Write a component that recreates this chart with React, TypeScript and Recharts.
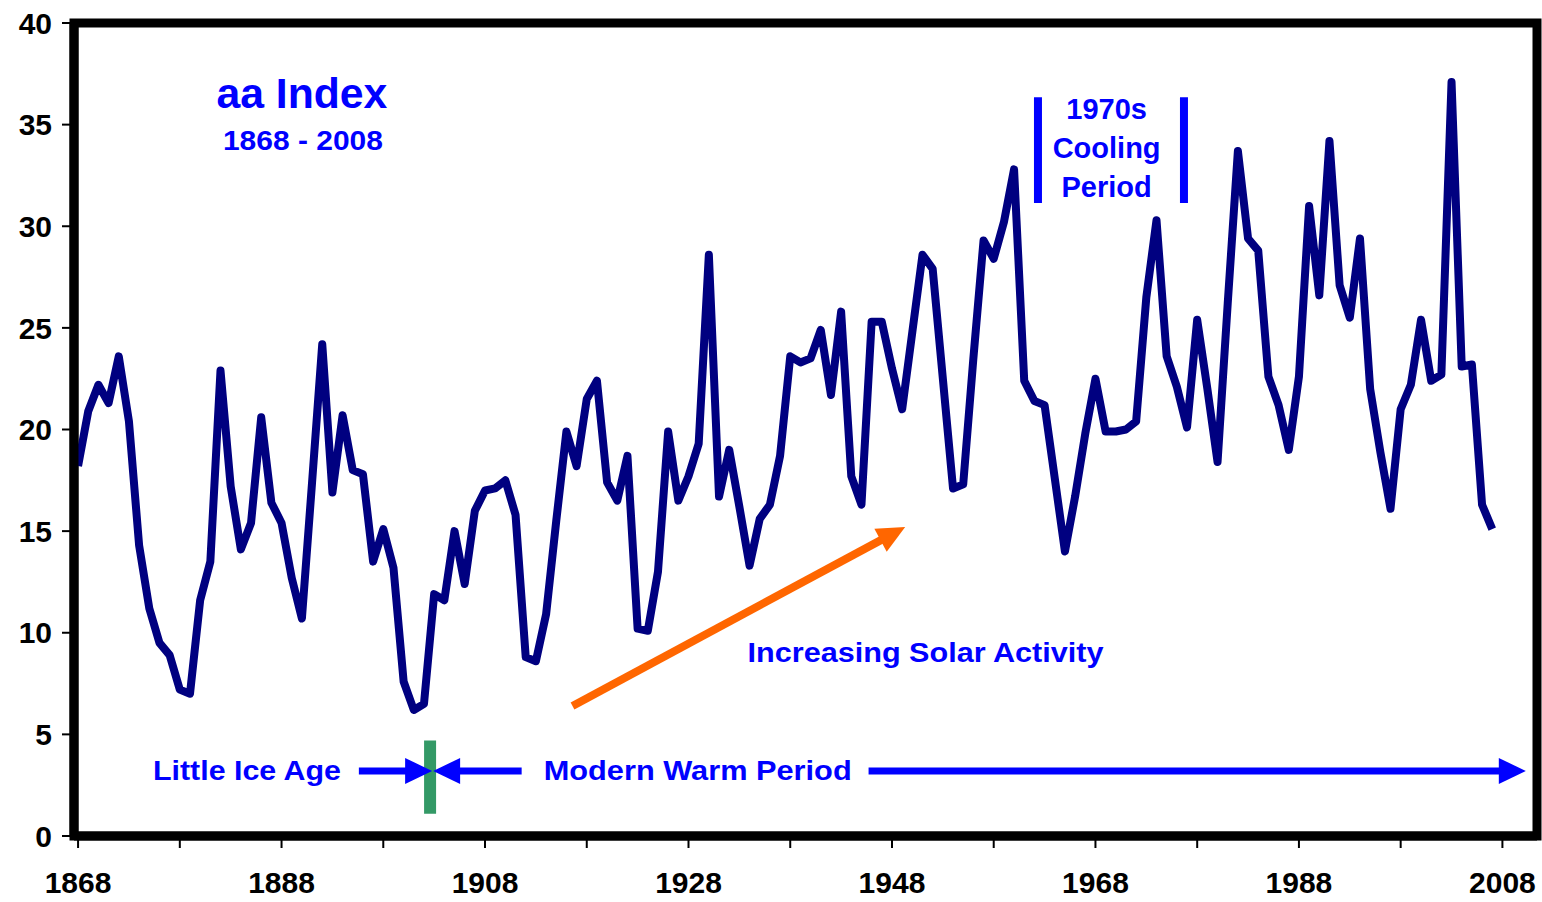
import React from "react";
import {
  Line,
  LineChart,
  ReferenceArea,
  ReferenceDot,
  ReferenceLine,
  XAxis,
  YAxis,
} from "recharts";

// yearly aa index values in 20-year blocks
const aa1868 = [18.2, 20.9, 22.2, 21.3, 23.6, 20.4, 14.3, 11.2, 9.5, 8.9, 7.2, 7.0, 11.6, 13.5, 22.9, 17.2, 14.1, 15.4, 20.6, 16.4];
const aa1888 = [15.4, 12.7, 10.7, 17.4, 24.2, 16.9, 20.7, 18.0, 17.8, 13.5, 15.1, 13.2, 7.6, 6.2, 6.5, 11.9, 11.6, 15.0, 12.4, 16.0];
const aa1908 = [17.0, 17.1, 17.5, 15.8, 8.8, 8.6, 10.9, 15.5, 19.9, 18.2, 21.5, 22.4, 17.4, 16.5, 18.7, 10.2, 10.1, 13.0, 19.9, 16.5];
const aa1928 = [17.7, 19.3, 28.6, 16.7, 19.0, 16.2, 13.3, 15.6, 16.3, 18.7, 23.6, 23.3, 23.5, 24.9, 21.7, 25.8, 17.7, 16.3, 25.3, 25.3];
const aa1948 = [23.0, 21.0, 24.8, 28.6, 27.9, 22.5, 17.1, 17.3, 23.5, 29.3, 28.4, 30.2, 32.8, 22.4, 21.4, 21.2, 17.6, 14.0, 16.7, 19.8];
const aa1968 = [22.5, 19.9, 19.9, 20.0, 20.4, 26.5, 30.3, 23.6, 22.1, 20.1, 25.4, 22.0, 18.4, 26.2, 33.7, 29.4, 28.8, 22.6, 21.2, 19.0];
const aa1988 = [22.6, 31.0, 26.6, 34.2, 27.1, 25.5, 29.4, 22.0, 18.9, 16.1, 21.0, 22.2, 25.4, 22.4, 22.7, 37.1, 23.1, 23.2, 16.3, 15.1];

const firstYear = 1868;
const aaValues = [...aa1868, ...aa1888, ...aa1908, ...aa1928, ...aa1948, ...aa1968, ...aa1988];
const data = aaValues.map((aa, i) => ({ year: firstYear + i, aa }));

const xTicks = [1868, 1878, 1888, 1898, 1908, 1918, 1928, 1938, 1948, 1958, 1968, 1978, 1988, 1998, 2008];
const xLabelYears = [1868, 1888, 1908, 1928, 1948, 1968, 1988, 2008];
const yTicks = [0, 5, 10, 15, 20, 25, 30, 35, 40];

const X_DOMAIN: [number, number] = [1867.6, 2011.4];
const FONT = "'Liberation Sans', Arial, sans-serif";
const BLUE = "#0000ff";

function arrowShape(color: string, width: number, headLen: number, headHalf: number) {
  return (props: any) => {
    const { x1, y1, x2, y2 } = props;
    const dx = x2 - x1;
    const dy = y2 - y1;
    const len = Math.sqrt(dx * dx + dy * dy) || 1;
    const ux = dx / len;
    const uy = dy / len;
    const bx = x2 - ux * headLen;
    const by = y2 - uy * headLen;
    const px = -uy * headHalf;
    const py = ux * headHalf;
    return (
      <g>
        <line x1={x1} y1={y1} x2={bx + ux * 2} y2={by + uy * 2} stroke={color} strokeWidth={width} />
        <polygon
          points={`${x2},${y2} ${bx + px},${by + py} ${bx - px},${by - py}`}
          fill={color}
        />
      </g>
    );
  };
}

function textShape(lines: string[], fontSize: number, lineGap: number, textLength?: number) {
  return (props: any) => {
    const { cx, cy } = props;
    const top = cy - ((lines.length - 1) * lineGap) / 2;
    return (
      <text
        x={cx}
        y={top}
        textAnchor="middle"
        dominantBaseline="central"
        fill={BLUE}
        fontFamily={FONT}
        fontWeight="bold"
        fontSize={fontSize}
      >
        {lines.map((line, i) => (
          <tspan
            key={line}
            x={cx}
            y={top + i * lineGap}
            textLength={textLength}
            lengthAdjust={textLength ? "spacingAndGlyphs" : undefined}
          >
            {line}
          </tspan>
        ))}
      </text>
    );
  };
}

export default function App() {
  return (
    <div style={{ position: "absolute", left: 0, top: 0, background: "#fff" }}>
      <LineChart
        width={1542}
        height={902}
        data={data}
        margin={{ top: 23, right: 5, left: 0, bottom: 0 }}
      >
        <XAxis
          dataKey="year"
          type="number"
          domain={X_DOMAIN}
          ticks={xTicks}
          interval={0}
          height={66}
          tickFormatter={(v: number) => (xLabelYears.includes(v) ? String(v) : "")}
          axisLine={{ stroke: "#000", strokeWidth: 9 }}
          tickLine={{ stroke: "#000", strokeWidth: 2 }}
          tickSize={12}
          tickMargin={24}
          tick={{ fill: "#000", fontSize: 30, fontWeight: "bold", fontFamily: FONT }}
        />
        <YAxis
          domain={[0, 40]}
          ticks={yTicks}
          interval={0}
          width={74}
          axisLine={{ stroke: "#000", strokeWidth: 9 }}
          tickLine={{ stroke: "#000", strokeWidth: 2 }}
          tickSize={12}
          tickMargin={10}
          tick={{ fill: "#000", fontSize: 30, fontWeight: "bold", fontFamily: FONT }}
        />

        <Line
          type="linear"
          dataKey="aa"
          stroke="#000080"
          strokeWidth={8}
          strokeLinejoin="round"
          dot={false}
          activeDot={false}
          isAnimationActive={false}
        />

        <ReferenceArea
          x1={X_DOMAIN[0]}
          x2={X_DOMAIN[1]}
          y1={0}
          y2={40}
          fill="none"
          fillOpacity={0}
          stroke="#000"
          strokeWidth={9}
          ifOverflow="visible"
        />

        {/* title */}
        <ReferenceDot x={1890.0} y={36.55} shape={textShape(["aa Index"], 42, 0, 171)} />
        <ReferenceDot x={1890.1} y={34.2} shape={textShape(["1868 - 2008"], 27, 0, 160)} />

        {/* 1970s cooling period */}
        <ReferenceLine
          segment={[{ x: 1962.35, y: 31.14 }, { x: 1962.35, y: 36.35 }]}
          stroke={BLUE}
          strokeWidth={8}
        />
        <ReferenceLine
          segment={[{ x: 1976.7, y: 31.14 }, { x: 1976.7, y: 36.35 }]}
          stroke={BLUE}
          strokeWidth={8}
        />
        <ReferenceDot x={1969.1} y={33.85} shape={textShape(["1970s", "Cooling", "Period"], 29, 39)} />

        {/* increasing solar activity */}
        <ReferenceLine
          segment={[{ x: 1916.6, y: 6.4 }, { x: 1949.3, y: 15.2 }]}
          shape={arrowShape("#ff6600", 8, 28, 13)}
        />
        <ReferenceDot x={1951.3} y={9.05} shape={textShape(["Increasing Solar Activity"], 28, 0, 356)} />

        {/* little ice age / modern warm period */}
        <ReferenceLine
          segment={[{ x: 1902.6, y: 1.1 }, { x: 1902.6, y: 4.7 }]}
          stroke="#339966"
          strokeWidth={12}
        />
        <ReferenceLine
          segment={[{ x: 1895.6, y: 3.2 }, { x: 1902.8, y: 3.2 }]}
          shape={arrowShape(BLUE, 7, 27, 13)}
        />
        <ReferenceLine
          segment={[{ x: 1911.6, y: 3.2 }, { x: 1902.9, y: 3.2 }]}
          shape={arrowShape(BLUE, 7, 27, 13)}
        />
        <ReferenceLine
          segment={[{ x: 1945.7, y: 3.2 }, { x: 2010.3, y: 3.2 }]}
          shape={arrowShape(BLUE, 7, 27, 13)}
        />
        <ReferenceDot x={1884.6} y={3.25} shape={textShape(["Little Ice Age"], 28, 0, 188)} />
        <ReferenceDot x={1928.9} y={3.25} shape={textShape(["Modern Warm Period"], 28, 0, 308)} />
      </LineChart>
    </div>
  );
}
